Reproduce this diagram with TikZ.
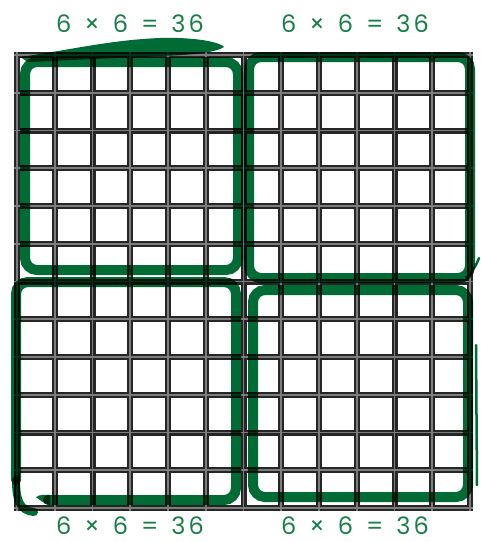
\documentclass[tikz,border=0pt]{standalone}
\usepackage{fontspec}
\setmainfont{Poppins}
\definecolor{mkgreen}{RGB}{0,107,52}
\definecolor{txgreen}{RGB}{24,128,70}
\definecolor{gridblack}{RGB}{38,38,38}
\definecolor{gridgray}{RGB}{125,125,125}
\tikzset{
  gridouter/.style={draw=gridblack,line width=6pt},
  gridinner/.style={draw=gridgray,line width=1.8pt},
  marker/.style={draw=mkgreen,line width=10pt,rounded corners=12pt,blend mode=multiply,line cap=round},
  markerfill/.style={fill=mkgreen,blend mode=multiply},
  thinmark/.style={draw=mkgreen,line width=2.5pt,line cap=round,blend mode=multiply},
  prod/.style={text=txgreen,font=\fontsize{24}{28}\selectfont,inner sep=0pt,anchor=center}
}
\newcommand{\gsp}{\hspace{13pt}}
\newcommand{\prodtext}{6\gsp×\gsp6\gsp=\gsp3\hspace{3pt}6}
\begin{document}
\begin{tikzpicture}[x=1pt,y=-1pt]
\path[fill=white,use as bounding box] (0,0) rectangle (481,542);
% grid
\foreach \i in {0,...,12}{
  \draw[gridouter] (17+37.75*\i,55-3) -- (17+37.75*\i,508+3);
  \draw[gridouter] (17-3,55+37.75*\i) -- (470+3,55+37.75*\i);
}
\foreach \i in {0,...,12}{
  \draw[gridinner] (17+37.75*\i,55-3) -- (17+37.75*\i,508+3);
  \draw[gridinner] (17-3,55+37.75*\i) -- (470+3,55+37.75*\i);
}
% green markers
\draw[marker] (25,62) rectangle (238,270);
\path[markerfill] (20,57) .. controls (70,50) and (110,40) .. (160,38)
  .. controls (195,37) and (220,42) .. (224,47)
  .. controls (215,53) and (190,55) .. (160,56) -- (28,62) -- cycle;
\draw[marker] (249,57) rectangle (470,278);
\draw[thinmark] (466,278) .. controls (472,272) and (476,266) .. (479,258);
\draw[marker] (48,500) -- (236,500) -- (236,282) -- (16,282) -- (16,480);
\path[markerfill] (36,497) .. controls (40,494) and (46,495) .. (50,495) -- (50,505) .. controls (44,504) and (40,500) .. cycle;
\draw[draw=mkgreen,line width=8pt,line cap=round,blend mode=multiply] (16,480) .. controls (16,500) and (20,511) .. (34,512);
\draw[marker] (253,290) rectangle (468,497);
\draw[thinmark] (476,345) -- (477,485);
% labels
\node[prod] (tl) at (130,24) {\prodtext};
\node[prod] (tr) at (355,24) {\prodtext};
\node[prod] (bl) at (130,526) {\prodtext};
\node[prod] (br) at (355,526) {\prodtext};
\end{tikzpicture}
\end{document}
